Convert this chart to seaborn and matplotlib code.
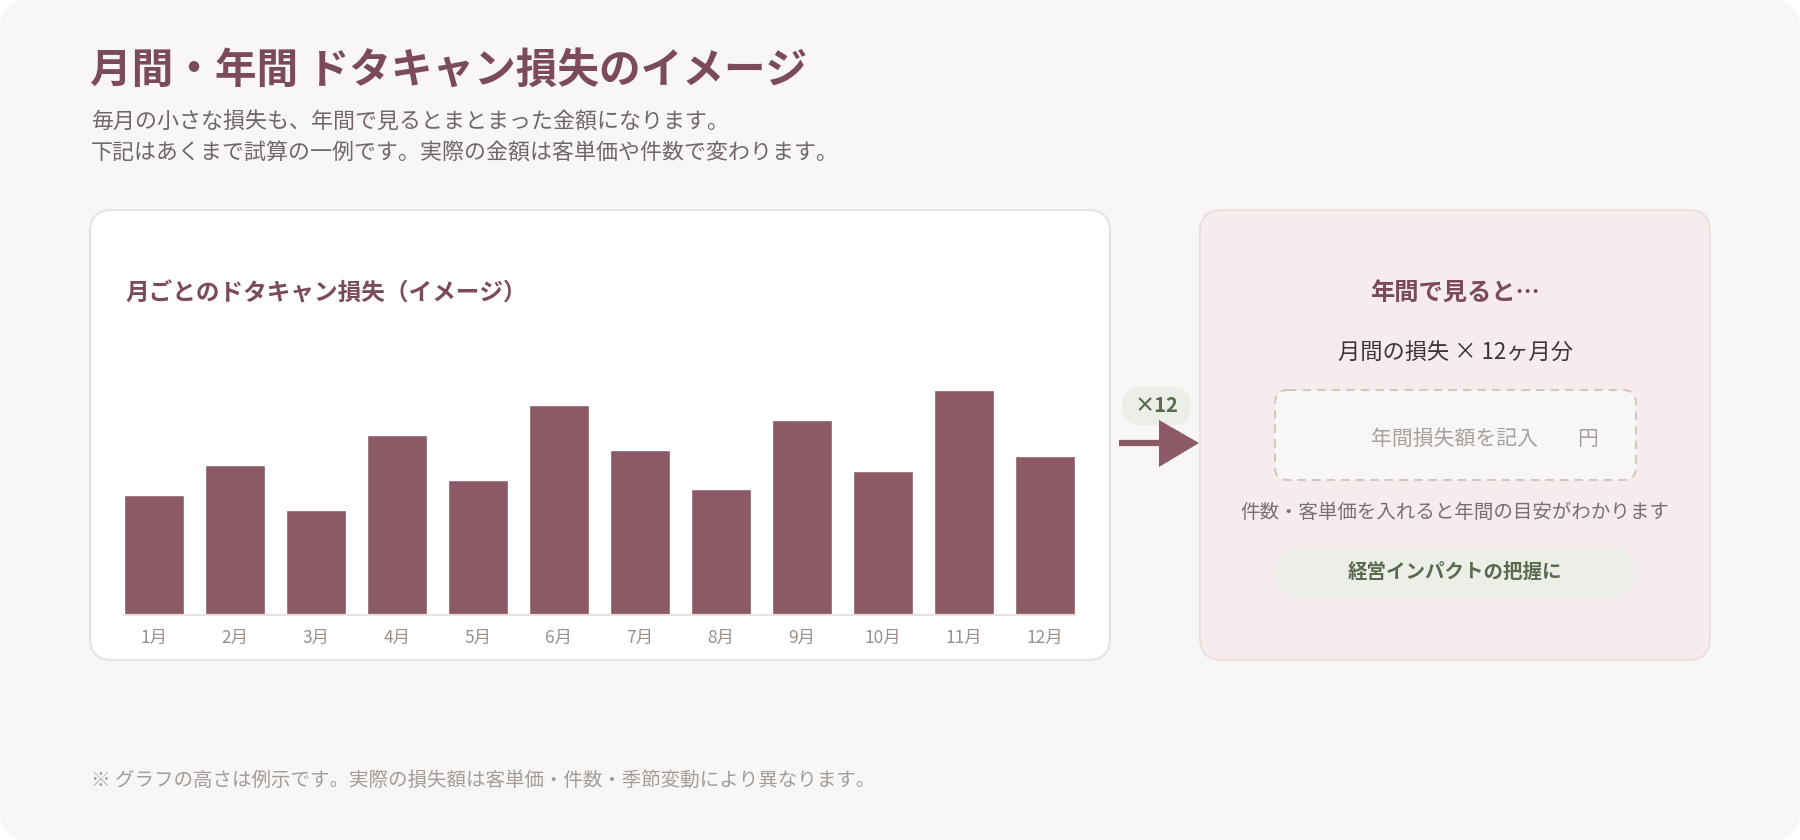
"""
Monthly / yearly no-show loss image (seaborn recreation)
"""

import numpy as np
import pandas as pd
import matplotlib
matplotlib.use('Agg')
import matplotlib.pyplot as plt
from matplotlib.patches import FancyBboxPatch, Polygon
import seaborn as sns


# Data

months = ['1月', '2月', '3月', '4月', '5月', '6月',
          '7月', '8月', '9月', '10月', '11月', '12月']
loss = [40, 50, 35, 60, 45, 70, 55, 42, 65, 48, 75, 53]

title = '月間・年間 ドタキャン損失のイメージ'
subtitle_lines = ['毎月の小さな損失も、年間で見るとまとまった金額になります。',
                  '下記はあくまで試算の一例です。実際の金額は客単価や件数で変わります。']
chart_title = '月ごとのドタキャン損失（イメージ）'
side_title = '年間で見ると…'
side_formula = '月間の損失 × 12ヶ月分'
input_hint = '年間損失額を記入'
input_unit = '円'
side_note = '件数・客単価を入れると年間の目安がわかります'
side_badge = '経営インパクトの把握に'
multiplier = '×12'
footnote = '※ グラフの高さは例示です。実際の損失額は客単価・件数・季節変動により異なります。'

# Colours

BAR = '#8c5a66'
PLUM = '#7b4a5b'
PAGE = '#f8f7f5'
GREEN_BG = '#ecefe7'
GREEN_TX = '#5b6a4f'

W, H = 1800, 840


def rbox(ax, x, y, w, h, r, **kw):
    """Rounded box in pixel coordinates (y downwards)"""
    p = FancyBboxPatch((x, y), w, h, boxstyle=f"round,pad=0,rounding_size={r}", **kw)
    ax.add_patch(p)
    return p


def main():
    sns.set_theme(style="white")
    plt.rcParams['font.family'] = ['Noto Sans CJK JP', 'DejaVu Sans']

    fig = plt.figure(figsize=(W / 100, H / 100), dpi=100, facecolor='white')

    # background layer in pixel coordinates
    bg = fig.add_axes([0, 0, 1, 1])
    bg.set_xlim(0, W)
    bg.set_ylim(H, 0)
    bg.axis('off')

    rbox(bg, 0, 0, W, H, 28, facecolor=PAGE, edgecolor='none')

    bg.text(90, 71, title, fontsize=30, fontweight='bold', color=PLUM,
            ha='left', va='center')
    bg.text(91, 123, subtitle_lines[0], fontsize=15.8, color='#6f6866',
            ha='left', va='center')
    bg.text(91, 154, subtitle_lines[1], fontsize=15.8, color='#6f6866',
            ha='left', va='center')

    # left card
    rbox(bg, 90, 210, 1020, 450, 22, facecolor='white', edgecolor='#e9e3de', linewidth=1.5)
    bg.text(126, 294, chart_title, fontsize=17, fontweight='bold', color=PLUM,
            ha='left', va='center')

    # right card
    rbox(bg, 1200, 210, 510, 450, 22, facecolor='#f6eced', edgecolor='#ecdfdc', linewidth=1.5)
    cx = 1455
    bg.text(cx, 294, side_title, fontsize=17.5, fontweight='bold', color=PLUM,
            ha='center', va='center')
    bg.text(cx, 352, side_formula, fontsize=16, color='#3d3535',
            ha='center', va='center')
    rbox(bg, 1275, 390, 361, 90, 13, facecolor=PAGE, edgecolor='#d9c6bb',
         linewidth=1.5, linestyle=(0, (4, 3)))
    bg.text(cx, 439, input_hint, fontsize=15, color='#a8a09c', ha='center', va='center')
    bg.text(1588, 439, input_unit, fontsize=15, color='#a8a09c', ha='center', va='center')
    bg.text(cx, 512, side_note, fontsize=14, color='#77706e', ha='center', va='center')
    rbox(bg, 1276, 549, 358, 48, 24, facecolor=GREEN_BG, edgecolor='none')
    bg.text(cx, 573, side_badge, fontsize=14, fontweight='bold', color=GREEN_TX,
            ha='center', va='center')

    # x12 badge and arrow
    rbox(bg, 1122, 387, 69, 38, 19, facecolor=GREEN_BG, edgecolor='none')
    bg.text(1156, 406, multiplier, fontsize=14.5, fontweight='bold', color=GREEN_TX,
            ha='center', va='center')
    bg.plot([1119, 1162], [443, 443], color=BAR, linewidth=4.5, solid_capstyle='butt')
    bg.add_patch(Polygon([[1159, 420], [1199, 443], [1159, 467]], closed=True,
                         facecolor=BAR, edgecolor='none'))

    bg.text(91, 780, footnote, fontsize=14, color='#a39c98', ha='left', va='center')

    # bar chart
    left, right = 124, 1075
    base, top = 615, 375
    ax = fig.add_axes([left / W, (H - base) / H, (right - left) / W, (base - top) / H])
    df = pd.DataFrame({'month': months, 'loss': loss})
    sns.barplot(data=df, x='month', y='loss', color=BAR, saturation=1,
                width=0.74, ax=ax)
    ax.set_xlim(-0.37, 11.37)
    ax.set_ylim(0, 80)
    ax.set_facecolor('none')
    ax.set_xlabel('')
    ax.set_ylabel('')
    ax.set_yticks([])
    sns.despine(ax=ax, left=True)
    ax.spines['bottom'].set_color('#e9e1dd')
    ax.spines['bottom'].set_linewidth(1.6)
    ax.tick_params(axis='x', length=0, pad=10, labelsize=12.5, labelcolor='#9b918c')

    plt.savefig('out.png', dpi=100, facecolor='white')


if __name__ == '__main__':
    main()
